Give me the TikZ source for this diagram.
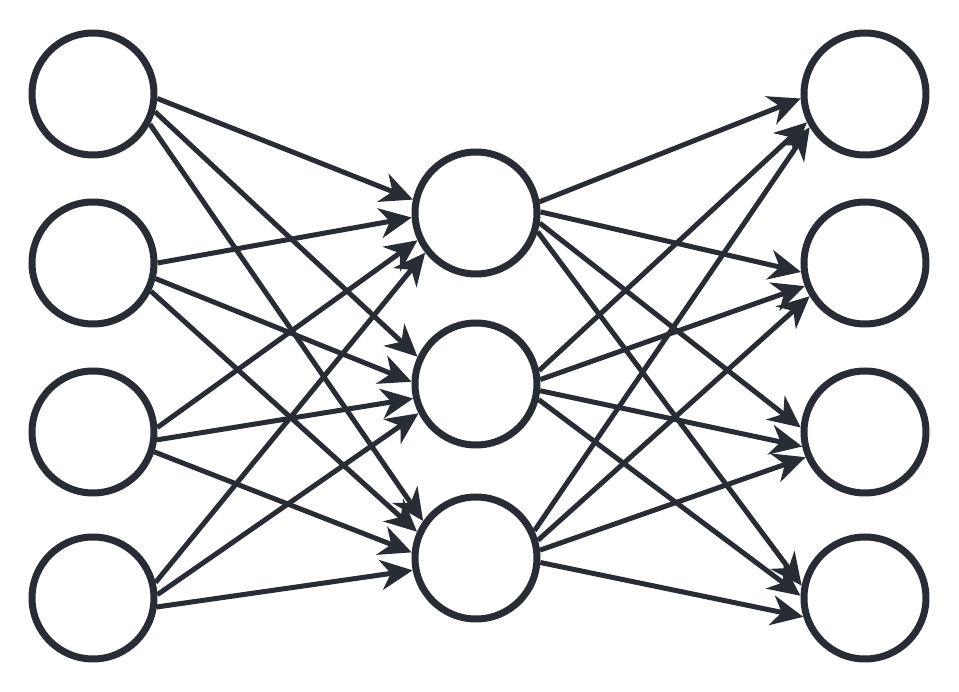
\documentclass[tikz,border=0pt]{standalone}
\usepackage{tikz}
\usetikzlibrary{arrows.meta}
\definecolor{slate}{HTML}{272C35}

\begin{document}
\begin{tikzpicture}[x=0.1mm,y=-0.1mm,
        neuron/.style={circle,draw=slate,line width=0.7mm,fill=white,minimum size=12.2mm,inner sep=0pt},
        link/.style={slate,line width=0.5mm,-{Stealth[length=3.2mm,width=3mm,inset=1mm]}}]
                \useasboundingbox (0,0) rectangle (959,692);
                % input and output layers
                \foreach[count=\i] \y in {94,263,432,598} {
                    \node[neuron] (in\i) at (93,\y) {};
                    \node[neuron] (out\i) at (865,\y) {};
                }
                % hidden layer
                \foreach[count=\j] \y in {213,384,558} {
                    \node[neuron] (hid\j) at (476,\y) {};
                }
                % input -> hidden (start angle / end angle)
                \foreach \i/\j/\a/\b in {1/1/-4/168, 1/2/-16/155, 1/3/-28/145,
                                         2/1/0/184, 2/2/-14/178, 2/3/-26/156,
                                         3/1/4/205, 3/2/-7/193, 3/3/-18/175,
                                         4/1/14/218, 4/2/3/207, 4/3/-8/191} {
                    \draw[link] (in\i.\a) -- (hid\j.\b);
                }
                % hidden -> output
                \foreach \j/\i/\a/\b in {1/1/10/184, 1/2/1/188, 1/3/-9/176, 1/4/-17/169,
                                         2/1/12/206, 2/2/4/201, 2/3/-6/193, 2/4/-14/178,
                                         3/1/25/211, 3/2/16/211, 3/3/7/203, 3/4/-4/197} {
                    \draw[link] (hid\j.\a) -- (out\i.\b);
                }
            \end{tikzpicture}
\end{document}
